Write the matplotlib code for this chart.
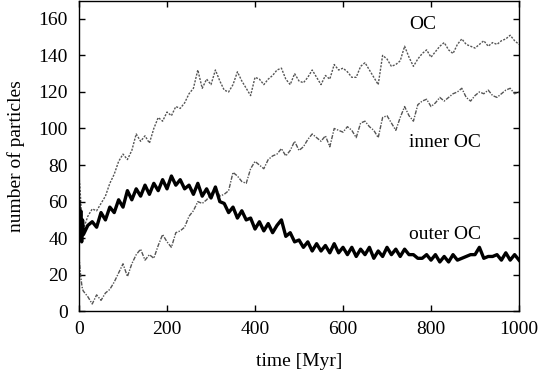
import numpy as np
import matplotlib.pyplot as plt

plt.rcParams['font.family'] = 'Liberation Serif'
plt.rcParams['font.size'] = 14

# time grid [Myr]: a few early samples, then every 10 Myr
t = np.concatenate([[0, 2, 4, 6, 8], np.arange(10, 1001, 10)])

# values
oc = [74, 68, 60, 52, 47,
      45, 52, 56, 55, 59, 63, 70, 75, 82, 86,
      83, 88, 97, 93, 96, 92, 100, 106, 104, 109,
      107, 112, 111, 114, 119, 122, 132, 122, 127, 124,
      132, 126, 121, 120, 124, 131, 126, 122, 118, 128,
      127, 124, 127, 129, 132, 133, 127, 124, 130, 126,
      125, 128, 132, 128, 124, 129, 127, 135, 132, 133,
      131, 128, 128, 134, 136, 132, 128, 124, 140, 138,
      134, 135, 137, 145, 139, 134, 138, 141, 143, 139,
      142, 145, 147, 143, 141, 146, 149, 146, 145, 144,
      146, 148, 145, 147, 146, 148, 149, 151, 148, 146]

inner_oc = [30, 24, 19, 15, 12,
            11, 8, 4, 9, 6, 10, 12, 16, 21, 26,
            19, 26, 31, 34, 28, 31, 29, 36, 42, 38,
            35, 43, 44, 46, 52, 55, 60, 59, 61, 64,
            68, 63, 64, 66, 76, 74, 71, 70, 78, 82,
            80, 78, 83, 85, 86, 89, 85, 88, 93, 88,
            90, 94, 97, 95, 93, 96, 90, 100, 99, 98,
            101, 99, 95, 103, 104, 101, 99, 95, 106, 107,
            103, 99, 106, 112, 107, 104, 113, 115, 116, 112,
            114, 117, 115, 117, 119, 120, 122, 117, 115, 118,
            120, 119, 121, 118, 117, 119, 121, 122, 119, 120]

outer_oc = [60, 40, 55, 38, 50,
            42, 47, 49, 46, 54, 50, 57, 54, 61, 57,
            66, 61, 67, 63, 69, 64, 70, 66, 72, 67,
            74, 69, 72, 67, 69, 64, 70, 63, 67, 62,
            68, 60, 59, 54, 57, 51, 55, 50, 51, 45,
            49, 44, 48, 43, 47, 50, 41, 43, 38, 39,
            35, 38, 33, 37, 33, 36, 32, 37, 32, 35,
            31, 35, 30, 34, 31, 35, 29, 33, 30, 35,
            31, 34, 30, 34, 31, 31, 29, 29, 31, 28,
            31, 27, 30, 27, 31, 28, 29, 30, 31, 31,
            35, 29, 30, 30, 31, 28, 32, 28, 31, 28]

fig = plt.figure(figsize=(5.39, 3.74), dpi=100)
ax = fig.add_axes([0.1466, 0.1676, 0.8163, 0.831])

ax.plot(t, oc, color='#555555', lw=1.0, ls=(0, (1.5, 1)))
ax.plot(t, inner_oc, color='#555555', lw=1.0, ls=(0, (3, 1, 1, 1)))
ax.plot(t, outer_oc, color='black', lw=2.4)

ax.text(750, 157, 'OC', va='center', ha='left')
ax.text(750, 92.5, 'inner OC', va='center', ha='left')
ax.text(750, 42, 'outer OC', va='center', ha='left')

ax.set_xlim(0, 1000)
ax.set_ylim(0, 170)
ax.set_xticks(range(0, 1001, 200))
ax.set_yticks(range(0, 161, 20))
ax.tick_params(direction='in', top=True, right=True, length=4, width=1)
ax.tick_params(axis='x', pad=7)
ax.tick_params(axis='y', pad=8)
for s in ax.spines.values():
    s.set_linewidth(1)

ax.set_xlabel('time [Myr]', labelpad=11)
ax.set_ylabel('number of particles', labelpad=10)

fig.savefig('out.png', dpi=100)
